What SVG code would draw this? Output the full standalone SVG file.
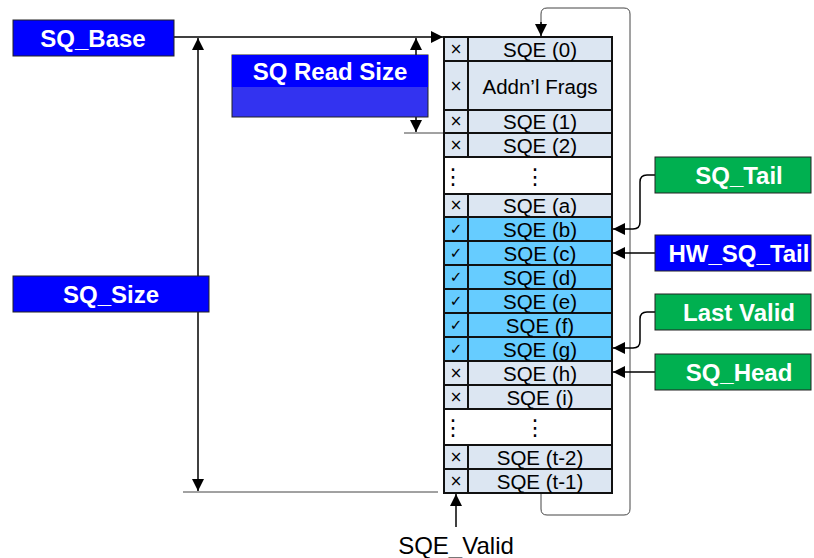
<svg xmlns="http://www.w3.org/2000/svg" width="814" height="558" viewBox="0 0 814 558">
<style>
.lbl{font-family:"Liberation Sans",Arial,sans-serif;font-weight:bold;font-size:24px;fill:#fff;text-anchor:middle;dominant-baseline:central}
.cell{font-family:"Liberation Sans",Arial,sans-serif;font-size:20.5px;fill:#000;text-anchor:middle;dominant-baseline:central}
.mk{font-family:"DejaVu Sans",sans-serif;font-size:15px;fill:#000;text-anchor:middle;dominant-baseline:central}
.dt{font-family:"DejaVu Sans",sans-serif;font-size:22px;fill:#000;text-anchor:middle;dominant-baseline:central}
.blue{fill:#0000ff;stroke:#222;stroke-width:1}
.green{fill:#00b050;stroke:#222;stroke-width:1}
.g{fill:#dce6f2;stroke:#111;stroke-width:2}
.b{fill:#66ccff;stroke:#111;stroke-width:2}
.w{fill:#fff;stroke:#111;stroke-width:2}
.ln{fill:none;stroke:#000;stroke-width:1.5}
.gl{fill:none;stroke:#444;stroke-width:1}
</style>
<defs>
<marker id="ah" viewBox="0 0 10 10" refX="10" refY="5" markerWidth="12" markerHeight="12" markerUnits="userSpaceOnUse" orient="auto">
<path d="M0,0 L10,5 L0,10 z" fill="#000"/>
</marker>
</defs>

<g id="connectors">
<path class="ln" d="M174,37 H443" marker-end="url(#ah)"/>
<path class="ln" d="M198,52 V38" marker-end="url(#ah)"/>
<path class="ln" d="M198,52 V491" marker-end="url(#ah)"/>
<path class="ln" d="M416,60 V38" marker-end="url(#ah)"/>
<path class="ln" d="M416,60 V132" marker-end="url(#ah)"/>
<path class="gl" d="M404,133 H444"/>
<path class="gl" d="M183,492 H438"/>
<path class="gl" d="M541,493 V509 Q541,515 547,515 H624 Q630,515 630,509 V14 Q630,8 624,8 H547 Q541,8 541,14 V24"/>
<path class="ln" d="M541,22 V36" marker-end="url(#ah)"/>
<path class="ln" d="M456,527 V494" marker-end="url(#ah)"/>
<path class="ln" d="M655,175 H647 Q640,175 640,182 V222 Q640,229 633,229 H613" marker-end="url(#ah)"/>
<path class="ln" d="M655,253 H613" marker-end="url(#ah)"/>
<path class="ln" d="M655,312 H647 Q640,312 640,319 V341 Q640,348 633,348 H613" marker-end="url(#ah)"/>
<path class="ln" d="M655,372 H613" marker-end="url(#ah)"/>
</g>

<g id="table">
<rect class="g" x="444" y="37" width="168" height="24"/>
<rect class="g" x="444" y="61" width="168" height="49"/>
<rect class="g" x="444" y="110" width="168" height="23"/>
<rect class="g" x="444" y="133" width="168" height="24"/>
<rect class="w" x="444" y="157" width="168" height="37"/>
<rect class="g" x="444" y="194" width="168" height="23"/>
<rect class="b" x="444" y="217" width="168" height="24"/>
<rect class="b" x="444" y="241" width="168" height="24"/>
<rect class="b" x="444" y="265" width="168" height="24"/>
<rect class="b" x="444" y="289" width="168" height="24"/>
<rect class="b" x="444" y="313" width="168" height="24"/>
<rect class="b" x="444" y="337" width="168" height="24"/>
<rect class="g" x="444" y="361" width="168" height="24"/>
<rect class="g" x="444" y="385" width="168" height="24"/>
<rect class="w" x="444" y="409" width="168" height="36"/>
<rect class="g" x="444" y="445" width="168" height="24"/>
<rect class="g" x="444" y="469" width="168" height="24"/>
<path d="M468,37 V157 M468,194 V409 M468,445 V493" stroke="#111" stroke-width="2"/>
<g class="mk">
<text x="456" y="49">×</text><text x="456" y="86">×</text><text x="456" y="121">×</text><text x="456" y="145">×</text>
<text x="456" y="205">×</text>
<text x="456" y="229">✓</text><text x="456" y="253">✓</text><text x="456" y="277">✓</text><text x="456" y="301">✓</text><text x="456" y="325">✓</text><text x="456" y="349">✓</text>
<text x="456" y="373">×</text><text x="456" y="397">×</text><text x="456" y="457">×</text><text x="456" y="481">×</text>
</g>
<g class="dt">
<text x="453" y="176">⋮</text><text x="535" y="176">⋮</text>
<text x="453" y="427">⋮</text><text x="535" y="427">⋮</text>
</g>
<g class="cell">
<text x="540" y="49">SQE (0)</text>
<text x="540" y="86">Addn’l Frags</text>
<text x="540" y="121">SQE (1)</text>
<text x="540" y="145">SQE (2)</text>
<text x="540" y="205">SQE (a)</text>
<text x="540" y="229">SQE (b)</text>
<text x="540" y="253">SQE (c)</text>
<text x="540" y="277">SQE (d)</text>
<text x="540" y="301">SQE (e)</text>
<text x="540" y="325">SQE (f)</text>
<text x="540" y="349">SQE (g)</text>
<text x="540" y="373">SQE (h)</text>
<text x="540" y="397">SQE (i)</text>
<text x="540" y="457">SQE (t-2)</text>
<text x="540" y="481">SQE (t-1)</text>
</g>
</g>

<g id="sq_base"><rect class="blue" x="13" y="20" width="161" height="36"/><text class="lbl" x="93" y="38">SQ_Base</text></g>
<g id="sq_read_size"><rect x="232" y="55" width="196" height="62" fill="#3333f0" stroke="#222" stroke-width="1"/><rect x="232" y="55" width="196" height="32" fill="#0000ff"/><text class="lbl" x="330" y="71">SQ Read Size</text></g>
<g id="sq_size"><rect class="blue" x="13" y="276" width="196" height="36"/><text class="lbl" x="111" y="294">SQ_Size</text></g>
<g id="sq_tail"><rect class="green" x="655" y="157" width="156" height="36"/><text class="lbl" x="739" y="175">SQ_Tail</text></g>
<g id="hw_sq_tail"><rect class="blue" x="655" y="235" width="156" height="36"/><text class="lbl" x="739" y="253">HW_SQ_Tail</text></g>
<g id="last_valid"><rect class="green" x="655" y="294" width="156" height="36"/><text class="lbl" x="739" y="312">Last Valid</text></g>
<g id="sq_head"><rect class="green" x="655" y="354" width="156" height="36"/><text class="lbl" x="739" y="372">SQ_Head</text></g>
<g id="sqe_valid"><text x="456" y="545" font-family="Liberation Sans, Arial, sans-serif" font-size="24" text-anchor="middle" dominant-baseline="central">SQE_Valid</text></g>
</svg>
